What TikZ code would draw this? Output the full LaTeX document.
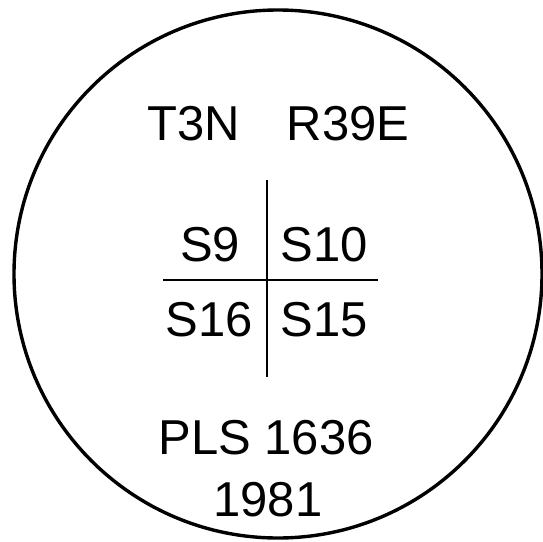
\documentclass[tikz,border=0pt]{standalone}
\usepackage{fontspec}
\setmainfont{Liberation Sans}
\usepackage{tikz}
\usetikzlibrary{positioning}

\tikzset{
    label text/.style={anchor=base, inner sep=0pt, font=\fontsize{49}{58}\selectfont},
}

\begin{document}
\begin{tikzpicture}[x=1pt, y=-1pt]
    \useasboundingbox (0,0) rectangle (543,541);

    % Outer ring
    \draw[line width=3.4pt] (278,274) circle (264);

    % Township and range
    \node[label text] (twp) at (194,140) {T3N};
    \node[label text] (rng) at (348,140) {R39E};

    % Section cross
    \coordinate (vtop) at (267,180);
    \coordinate (vbot) at (267,377);
    \coordinate (hleft) at (163,280);
    \coordinate (hright) at (378,280);
    \draw[line width=1.8pt] (vtop) -- (vbot);
    \draw[line width=1.8pt] (hleft) -- (hright);

    % Sections
    \node[label text] (s9)  at (210,261) {S9};
    \node[label text] (s10) at (324,261) {S10};
    \node[label text] (s16) at (209,336) {S16};
    \node[label text] (s15) at (324,336) {S15};

    % Surveyor and year
    \node[label text] (pls)  at (266,454) {PLS 1636};
    \node[label text] (year) at (268,516) {1981};
\end{tikzpicture}
\end{document}
